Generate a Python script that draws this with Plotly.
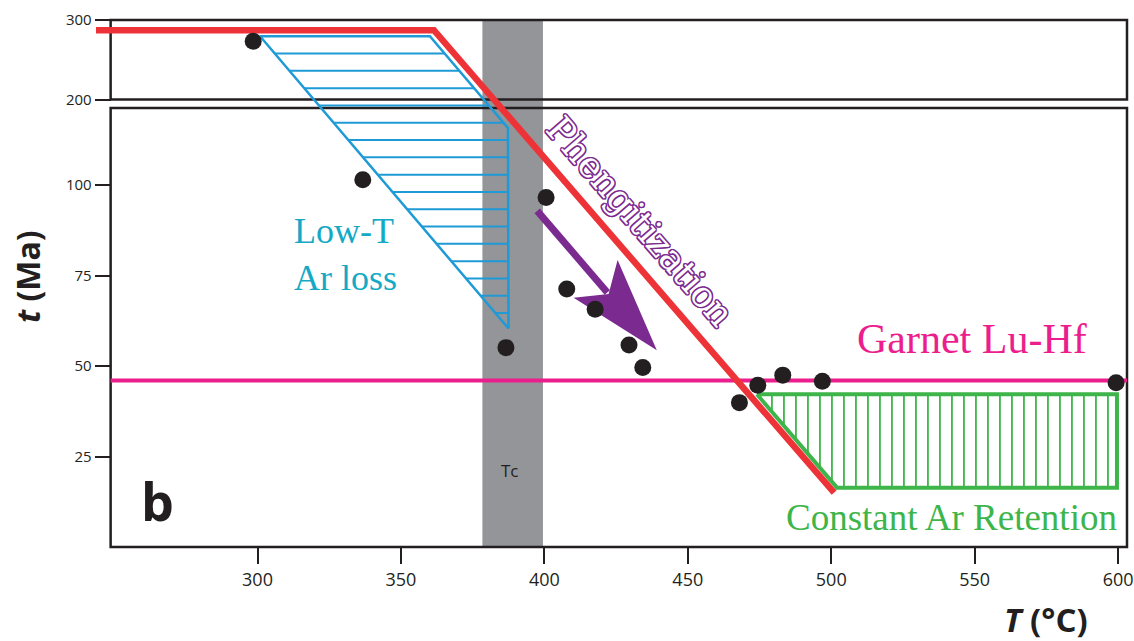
import numpy as np
import plotly.graph_objects as go

# ---------------- data ----------------
T_TICKS = [300, 350, 400, 450, 500, 550, 600]
T_LABELS = ["300", "350", "400", "450", "500", "550", "600"]
AGE_TICKS = [25, 50, 75, 100, 200, 300]
AGE_LABELS = ["25", "50", "75", "100", "200", "300"]

LOW_PANEL_AGE = [0, 121.3]      # lower frame of the broken time axis (Ma)
HIGH_PANEL_AGE = [200, 300]     # upper frame of the broken time axis (Ma)
T_FRAME = [248.8, 603.1]        # temperature extent of the frames (°C)
T_RANGE = [243.7, 603.1]

SAMPLE_T = [298.5, 336.7, 400.6, 386.6, 407.8, 417.7, 429.5, 434.3, 468.0, 474.4, 483.1, 496.9, 599.3]
SAMPLE_AGE = [273.3, 101.5, 96.6, 55.1, 71.3, 65.7, 55.8, 49.6, 39.9, 44.7, 47.5, 45.8, 45.4]

PATH_T = [243.7, 361.5, 501.0]
PATH_AGE = [287.2, 287.2, 15.0]

LOWT_T = [300.9, 360.1, 387.3, 387.5, 300.9]
LOWT_AGE = [279.6, 279.6, 115.8, 60.4, 279.6]

RET_T = [474.1, 599.6, 599.6, 502.0, 474.1]
RET_AGE = [42.2, 42.2, 16.4, 16.4, 42.2]

GARNET_AGE = 46.0
TC_BAND = [378.4, 399.5]

ARROW_T = [397.5, 439.2]
ARROW_AGE = [92.9, 54.4]

# ---------------- broken-axis mapping ----------------
GAP_UNITS = 2.35
HIGH_SCALE = 0.22


def disp(a):
    a = np.asarray(a, dtype=float)
    return np.where(a <= LOW_PANEL_AGE[1], a,
                    LOW_PANEL_AGE[1] + GAP_UNITS + (a - HIGH_PANEL_AGE[0]) * HIGH_SCALE)


D_MAX = float(disp(HIGH_PANEL_AGE[1]))

W, H = 1134, 641
M = dict(l=96, r=7, t=20, b=94)
PLOT_W = W - M["l"] - M["r"]
PLOT_H = H - M["t"] - M["b"]
SX = PLOT_W / (T_RANGE[1] - T_RANGE[0])
SY = PLOT_H / D_MAX

BLACK = "#231F20"
RED = "#EE3338"
BLUE = "#1E9AD6"
CYAN = "#14A9C5"
GREEN = "#3DB54A"
MAGENTA = "#EC1E8D"
PURPLE = "#7B2A90"
GRAY = "#939598"


def xfrac(t):
    return (t - T_RANGE[0]) / (T_RANGE[1] - T_RANGE[0])


def hatch(poly_t, poly_age, spacing_px, vertical, offset_px):
    """Hatch segments (in data units) clipping scanlines to a convex polygon."""
    px = (np.asarray(poly_t, float) - T_RANGE[0]) * SX
    py = disp(poly_age) * SY
    a, b = (px, py) if vertical else (py, px)  # a: scan coordinate, b: along-line coordinate
    xs, ys = [], []
    if vertical:
        start, stop, step = a.min() + offset_px, a.max() - 1, spacing_px
    else:
        start, stop, step = a.max() - offset_px, a.min() + 1, -spacing_px
    s = start
    while (s <= stop) if vertical else (s >= stop):
        hits = []
        for i in range(len(a) - 1):
            a1, a2, b1, b2 = a[i], a[i + 1], b[i], b[i + 1]
            if a1 != a2 and min(a1, a2) <= s <= max(a1, a2):
                hits.append(b1 + (s - a1) * (b2 - b1) / (a2 - a1))
        if len(hits) >= 2:
            lo, hi = min(hits), max(hits)
            if vertical:
                xs += [s / SX + T_RANGE[0]] * 2 + [None]
                ys += [lo / SY, hi / SY, None]
            else:
                xs += [lo / SX + T_RANGE[0], hi / SX + T_RANGE[0], None]
                ys += [s / SY, s / SY, None]
        s += step
    return xs, ys


fig = go.Figure()

# Low-T Ar loss hatched region
hx, hy = hatch(LOWT_T, LOWT_AGE, 17.3, vertical=False, offset_px=17.3)
fig.add_trace(go.Scatter(x=hx, y=hy, mode="lines", line=dict(color=BLUE, width=2),
                         hoverinfo="skip", showlegend=False))
fig.add_trace(go.Scatter(x=LOWT_T, y=disp(LOWT_AGE), mode="lines",
                         line=dict(color=BLUE, width=2.5), hoverinfo="skip", showlegend=False))

# Constant Ar retention hatched region
hx, hy = hatch(RET_T, RET_AGE, 12.0, vertical=True, offset_px=15.0)
fig.add_trace(go.Scatter(x=hx, y=hy, mode="lines", line=dict(color=GREEN, width=1.8),
                         hoverinfo="skip", showlegend=False))
fig.add_trace(go.Scatter(x=RET_T, y=disp(RET_AGE), mode="lines",
                         line=dict(color=GREEN, width=4), hoverinfo="skip", showlegend=False))

# Garnet Lu-Hf age
fig.add_trace(go.Scatter(
    x=T_FRAME, y=disp([GARNET_AGE, GARNET_AGE]), mode="lines",
    line=dict(color=MAGENTA, width=4), hoverinfo="skip", showlegend=False))

# t-T path
fig.add_trace(go.Scatter(
    x=PATH_T, y=disp(PATH_AGE), mode="lines",
    line=dict(color=RED, width=6.5), hoverinfo="skip", showlegend=False))

# Phengitization arrow (shaft + swept-back head), built in pixel space
tail = np.array([ARROW_T[0] * SX, float(disp(ARROW_AGE[0])) * SY])
tip = np.array([ARROW_T[1] * SX, float(disp(ARROW_AGE[1])) * SY])
u = (tip - tail) / np.linalg.norm(tip - tail)
n = np.array([-u[1], u[0]])
HEAD_L, HEAD_W, HEAD_N = 94.0, 29.0, 74.0
head = [tip, tip - HEAD_L * u + HEAD_W * n, tip - HEAD_N * u, tip - HEAD_L * u - HEAD_W * n, tip]
shaft_end = tip - (HEAD_N + 2) * u
fig.add_trace(go.Scatter(
    x=[tail[0] / SX, shaft_end[0] / SX], y=[tail[1] / SY, shaft_end[1] / SY], mode="lines",
    line=dict(color=PURPLE, width=7), hoverinfo="skip", showlegend=False))
fig.add_trace(go.Scatter(
    x=[p[0] / SX for p in head], y=[p[1] / SY for p in head], mode="lines", fill="toself",
    fillcolor=PURPLE, line=dict(color=PURPLE, width=0), hoverinfo="skip", showlegend=False))

# samples
fig.add_trace(go.Scatter(
    x=SAMPLE_T, y=disp(SAMPLE_AGE), mode="markers",
    marker=dict(color=BLACK, size=17), cliponaxis=False, hoverinfo="skip", showlegend=False))

# shapes: Tc band and the two frames of the broken axis
shapes = [
    dict(type="rect", xref="x", yref="y domain", x0=TC_BAND[0], x1=TC_BAND[1], y0=0, y1=1,
         fillcolor=GRAY, line=dict(width=0), layer="below"),
]
for lo, hi in (LOW_PANEL_AGE, HIGH_PANEL_AGE):
    shapes.append(dict(type="rect", xref="x domain", yref="y domain",
                       x0=xfrac(T_FRAME[0]), x1=xfrac(T_FRAME[1]),
                       y0=float(disp(lo)) / D_MAX, y1=float(disp(hi)) / D_MAX,
                       line=dict(color=BLACK, width=2.5), fillcolor="rgba(0,0,0,0)", layer="below"))

outline = ", ".join(f"{dx}px {dy}px 0 {PURPLE}" for dx, dy in
                    [(1, 0), (-1, 0), (0, 1), (0, -1), (1, 1), (-1, -1), (1, -1), (-1, 1),
                     (1.7, 0), (-1.7, 0), (0, 1.7), (0, -1.7)])

annotations = [
    dict(x=311.9, y=80.9, xref="x", yref="y", text="Low-T<br>Ar loss", showarrow=False,
         xanchor="left", yanchor="middle", align="left",
         font=dict(family="Liberation Serif", size=36, color=CYAN)),
    dict(x=549.0, y=57.6, xref="x", yref="y", text="Garnet Lu-Hf", showarrow=False,
         xanchor="center", yanchor="middle",
         font=dict(family="Liberation Serif", size=42, color=MAGENTA)),
    dict(x=541.8, y=8.2, xref="x", yref="y", text="Constant Ar Retention", showarrow=False,
         xanchor="center", yanchor="middle",
         font=dict(family="Liberation Serif", size=37, color=GREEN)),
    dict(x=433.4, y=89.9, xref="x", yref="y", text="Phengitization", showarrow=False,
         textangle=49, xanchor="center", yanchor="middle",
         font=dict(family="DejaVu Serif", size=36, color="white", shadow=outline)),
    dict(x=388.0, y=21.2, xref="x", yref="y", text="Tc", showarrow=False,
         xanchor="center", yanchor="middle",
         font=dict(family="Open Sans", size=17, color=BLACK)),
    dict(x=265.3, y=12.9, xref="x", yref="y", text="<b>b</b>", showarrow=False,
         xanchor="center", yanchor="middle",
         font=dict(family="Open Sans", size=52, color=BLACK)),
    dict(x=(1046 - M["l"]) / PLOT_W, y=-(619 - (H - M["b"])) / PLOT_H, xref="paper", yref="paper",
         text="<b><i>T</i> (°C)</b>", showarrow=False, xanchor="center", yanchor="middle",
         font=dict(family="Open Sans", size=33, color=BLACK)),
    dict(x=(27 - M["l"]) / PLOT_W, y=((H - M["b"]) - 277) / PLOT_H, xref="paper", yref="paper",
         text="<b><i>t</i> (Ma)</b>", showarrow=False, textangle=-90, xanchor="center", yanchor="middle",
         font=dict(family="Open Sans", size=32, color=BLACK)),
]

fig.update_layout(
    width=W, height=H, margin=dict(M, autoexpand=False),
    paper_bgcolor="white", plot_bgcolor="white",
    shapes=shapes, annotations=annotations,
    xaxis=dict(range=T_RANGE, tickvals=T_TICKS, ticktext=T_LABELS,
               showgrid=False, zeroline=False, showline=False,
               ticks="outside", ticklen=16, tickwidth=2, tickcolor=BLACK,
               tickfont=dict(family="Open Sans", size=18, color=BLACK)),
    yaxis=dict(range=[0, D_MAX], tickvals=[float(v) for v in disp(AGE_TICKS)], ticktext=AGE_LABELS,
               anchor="free", position=xfrac(T_FRAME[0]),
               showgrid=False, zeroline=False, showline=False,
               ticks="outside", ticklen=16, tickwidth=2, tickcolor=BLACK,
               tickfont=dict(family="Open Sans", size=15, color=BLACK)),
)

fig.write_html("out.html")
